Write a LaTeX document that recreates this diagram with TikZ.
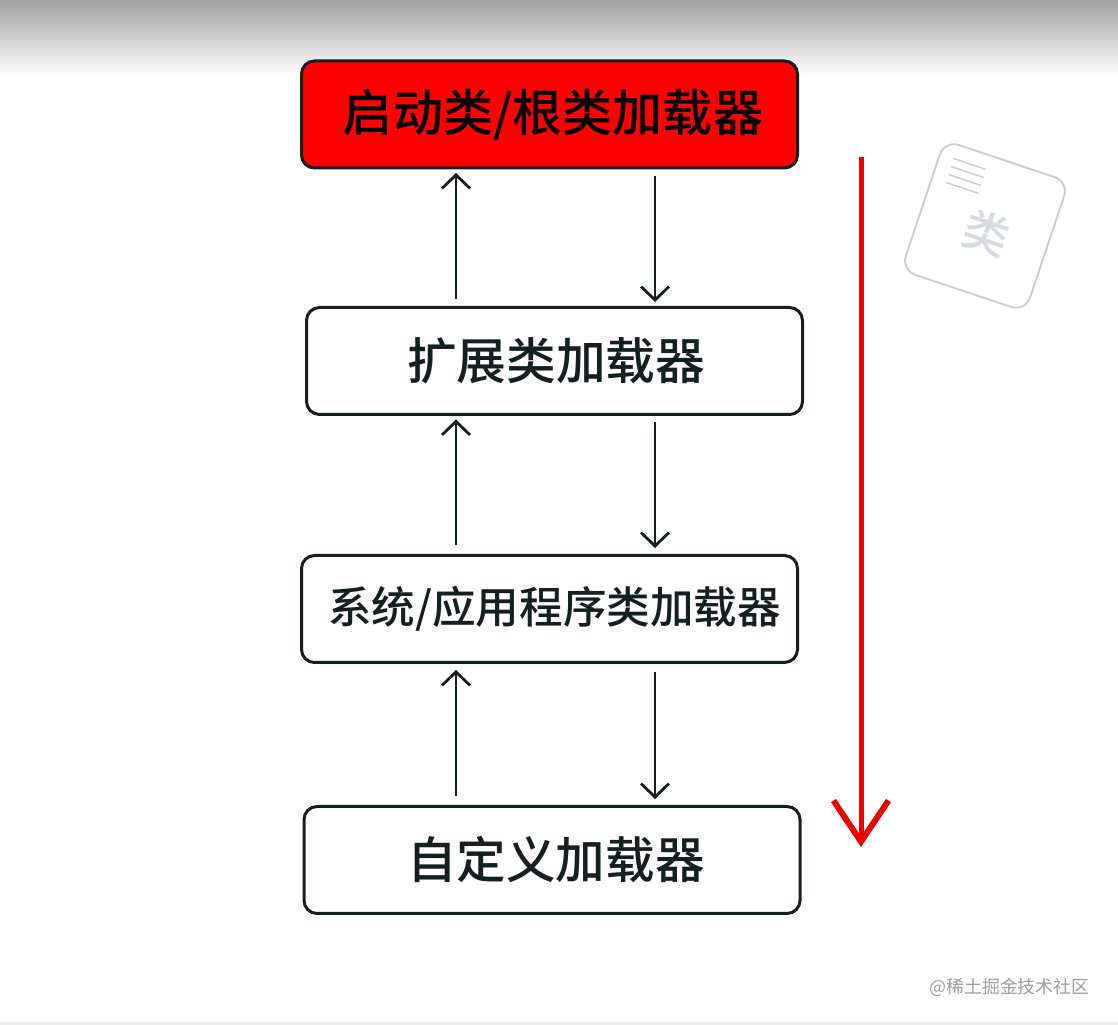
\documentclass[tikz,border=0pt]{standalone}
\usepackage{fontspec}
\setmainfont{Noto Sans CJK SC}[BoldFont={* Medium}]
\usepackage{tikz}
\usetikzlibrary{arrows.meta}

\definecolor{inkdark}{HTML}{12201F}
\definecolor{cardgray}{HTML}{CFCFCF}
\definecolor{cardtext}{HTML}{D3DCDF}

\tikzset{
	loader/.style={draw=inkdark, rounded corners=0.26cm, line width=0.06cm, minimum width=9.92cm, minimum height=2.14cm, inner sep=0pt, text=inkdark, font=\bfseries},
	flow/.style={draw=inkdark, line width=0.056cm, -{Straight Barb[length=0.27cm, width=0.56cm, line width=0.056cm]}},
	cardline/.style={draw=cardgray, line width=0.03cm}
}

\begin{document}
\begin{tikzpicture}
		\useasboundingbox (0, 0) rectangle (22.36, 20.5);

		% top shadow and bottom strip
		\shade[top color=black!37, bottom color=white] (0, 19) rectangle (22.36, 20.5);
		\fill[black!7] (0, 0) rectangle (22.36, 0.06);

		% loaders
		\node[loader, fill=red, text=black] (boot) at (10.99, 18.21) {\fontsize{28.5}{32}\selectfont\hspace{4pt}启动类/根类加载器};
		\node[loader] (ext) at (11.09, 13.28) {\fontsize{28.3}{32}\selectfont\hspace{2pt}扩展类加载器};
		\node[loader] (sys) at (10.99, 8.32) {\fontsize{24.8}{28}\selectfont\hspace{5.7pt}系统/应用程序类加载器};
		\node[loader] (custom) at (11.04, 3.30) {\fontsize{28.2}{32}\selectfont\hspace{4.5pt}自定义加载器};

		\coordinate (upx) at (9.12, 0);
		\coordinate (downx) at (13.1, 0);

		% child to parent
		\draw[flow, shorten <=0.14cm, shorten >=0.07cm] (ext.north -| upx) -- (boot.south -| upx);
		\draw[flow, shorten <=0.17cm, shorten >=0.07cm] (sys.north -| upx) -- (ext.south -| upx);
		\draw[flow, shorten <=0.17cm, shorten >=0.12cm] (custom.north -| upx) -- (sys.south -| upx);

		% parent to child
		\draw[flow, shorten <=0.14cm, shorten >=0.08cm] (boot.south -| downx) -- (ext.north -| downx);
		\draw[flow, shorten <=0.12cm, shorten >=0.12cm] (ext.south -| downx) -- (sys.north -| downx);
		\draw[flow, shorten <=0.16cm, shorten >=0.12cm] (sys.south -| downx) -- (custom.north -| downx);

		% red arrow
		\coordinate (redtop) at (17.22, 17.36);
		\coordinate (redend) at (17.22, 3.56);
		\draw[draw=red!92!black, line width=0.1cm, -{Straight Barb[length=0.82cm, width=1.1cm, line width=0.12cm]}] (redtop) -- (redend);

		% class card
		\node[draw=cardgray, fill=white, line width=0.04cm, rounded corners=0.3cm, rotate=-18.5, minimum width=2.62cm, minimum height=2.74cm] (card) at (19.7, 15.98) {};
		\foreach \i in {0,1,2,3}
			\draw[cardline] (19.07-0.049*\i, 17.33-0.16*\i) -- (19.72-0.049*\i, 17.11-0.16*\i);
		\node[rotate=-18.5, text=cardtext, font=\bfseries] (cardchar) at (19.74, 15.84) {\fontsize{26}{30}\selectfont 类};

		% mark
		\node[anchor=east, text=black!38, inner sep=0pt] (mark) at (21.8, 0.76) {\fontsize{10.2}{12}\selectfont @稀土掘金技术社区};
	\end{tikzpicture}
\end{document}
